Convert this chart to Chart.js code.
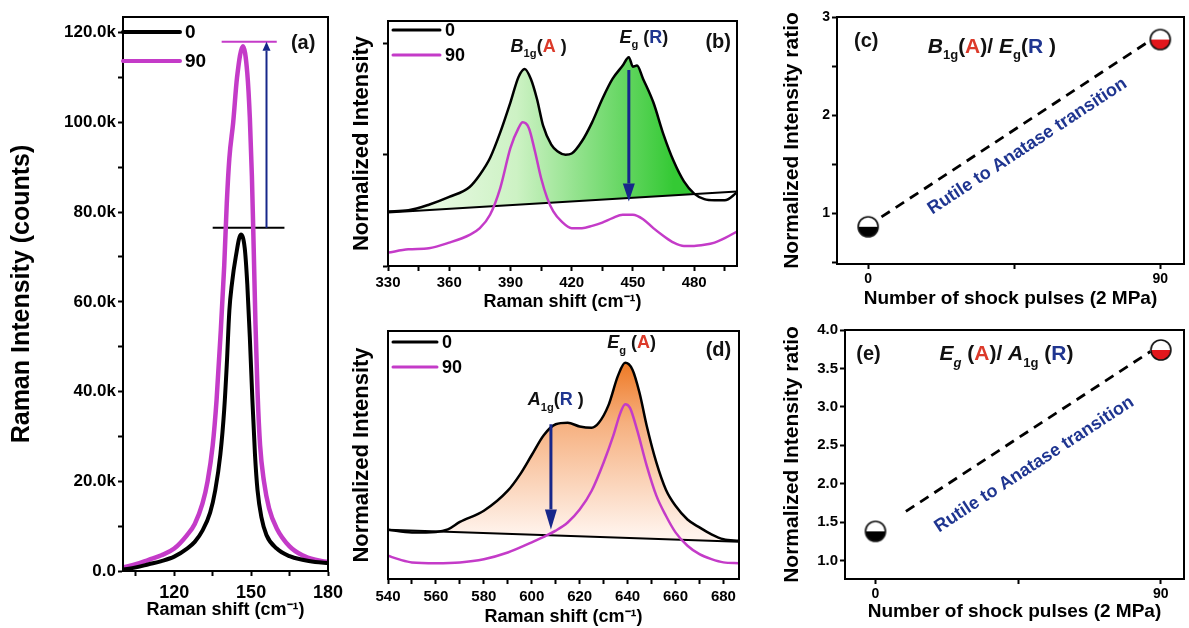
<!DOCTYPE html>
<html lang="en">
<head>
  <meta charset="UTF-8">
  <title>Raman spectra | shock pulses</title>
  <script src="https://cdn.jsdelivr.net/npm/chart.js"></script>
  <style>
    html, body { margin: 0; padding: 0; background: #fff; }
    body { width: 1189px; height: 628px; position: relative; overflow: hidden; }
    canvas { position: absolute; }
  </style>
</head>
<body>
  <canvas id="chartA" width="350" height="628" style="left:0;top:0"></canvas>
  <canvas id="chartB" width="420" height="320" style="left:340px;top:0"></canvas>
  <canvas id="chartD" width="420" height="318" style="left:340px;top:310px"></canvas>
  <canvas id="chartC" width="435" height="320" style="left:760px;top:0"></canvas>
  <canvas id="chartE" width="435" height="318" style="left:760px;top:310px"></canvas>

  <script>
    // (a) low-wavenumber band, counts in thousands
    const aShift0 = [100, 105, 110, 115, 120, 125, 128, 131, 134, 136, 138, 139.5, 140.5, 141.5, 142.5, 144, 146, 147.5, 148.5, 149.5, 150.5, 151.5, 152.5, 154, 156, 160, 165, 170, 175, 180];
    const aCounts0 = [0.3, 0.8, 1.5, 2.2, 3.2, 5, 6.5, 9, 13, 18, 26, 36, 46, 58, 64, 70, 75, 72, 64, 52, 38, 26, 18, 12, 8, 5, 3.3, 2.5, 2, 1.8];
    const aShift90 = [100, 105, 110, 115, 120, 125, 128, 131, 133, 135, 136.5, 138, 139.5, 140.5, 141.5, 143, 144.5, 146.8, 148.5, 149.5, 150.3, 151, 151.7, 152.5, 153.5, 155, 157, 160, 165, 170, 175, 180];
    const aCounts90 = [0.8, 1.5, 2.5, 3.5, 5, 8, 10.5, 15, 20, 28, 38, 52, 68, 82, 92, 100, 110, 117, 111, 101, 88, 72, 55, 40, 28, 20, 14, 9.5, 5.5, 3.5, 2.5, 2];
    const aPeakSpan0 = [135, 163];
    const aPeakLevel0 = [76.5, 76.5];
    const aPeakSpan90 = [138.5, 160];
    const aPeakLevel90 = [118, 118];

    // (b) B1g / Eg region
    const bShift0 = [330, 340, 350, 360, 370, 375, 380, 385, 390, 394, 397, 400, 403, 406, 410, 413, 417, 420, 425, 430, 435, 440, 445, 448, 450, 452, 455, 460, 465, 470, 475, 480, 485, 490, 495, 501];
    const bNorm0 = [0.49, 0.5, 0.55, 0.62, 0.71, 0.82, 0.97, 1.2, 1.47, 1.7, 1.77, 1.68, 1.5, 1.26, 1.09, 1.03, 1.0, 1.01, 1.12, 1.29, 1.5, 1.68, 1.8, 1.875, 1.79, 1.8, 1.68, 1.47, 1.18, 0.94, 0.76, 0.65, 0.6, 0.59, 0.59, 0.66];
    const bShift90 = [330, 340, 350, 360, 370, 375, 380, 385, 390, 394, 396, 399, 402, 405, 408, 411, 415, 420, 425, 430, 435, 440, 445, 450, 455, 460, 465, 470, 475, 480, 485, 490, 495, 501];
    const bNorm90 = [0.12, 0.15, 0.16, 0.21, 0.28, 0.34, 0.46, 0.7, 1.06, 1.24, 1.29, 1.24, 1.03, 0.79, 0.61, 0.49, 0.4, 0.34, 0.34, 0.36, 0.39, 0.43, 0.46, 0.46, 0.42, 0.34, 0.27, 0.21, 0.18, 0.18, 0.19, 0.21, 0.25, 0.31];
    const bBaseShift = [330, 501];
    const bBaseNorm = [0.48, 0.67];

    // (d) Eg / A1g region
    const dShift0 = [540, 550, 560, 565, 570, 580, 590, 595, 600, 605, 610, 615, 620, 625, 628, 632, 636, 639, 642, 645, 648, 652, 656, 660, 665, 670, 675, 680, 686.5];
    const dNorm0 = [0.199, 0.188, 0.19, 0.2, 0.23, 0.275, 0.356, 0.42, 0.5, 0.58, 0.624, 0.63, 0.615, 0.61, 0.63, 0.7, 0.82, 0.872, 0.845, 0.75, 0.617, 0.47, 0.36, 0.295, 0.24, 0.208, 0.18, 0.16, 0.154];
    const dShift90 = [540, 545, 550, 560, 570, 580, 590, 600, 605, 610, 615, 620, 625, 630, 634, 637, 639, 641, 644, 648, 652, 656, 660, 665, 670, 675, 680, 686.5];
    const dNorm90 = [0.094, 0.078, 0.067, 0.064, 0.067, 0.08, 0.107, 0.148, 0.17, 0.195, 0.228, 0.28, 0.356, 0.47, 0.577, 0.67, 0.705, 0.69, 0.6, 0.456, 0.336, 0.255, 0.188, 0.134, 0.1, 0.08, 0.067, 0.064];
    const dBaseShift = [540, 686.5];
    const dBaseNorm = [0.199, 0.15];

    // (c), (e) intensity ratios vs number of shock pulses
    const pulses = [0, 90];
    const cRatio = [0.86, 2.77];
    const cTrendPulses = [4.1, 86.9];
    const cTrendRatio = [0.96, 2.76];
    const eRatio = [1.38, 3.74];
    const eTrendPulses = [9.6, 86.7];
    const eTrendRatio = [1.64, 3.72];

    const FONT = '"Liberation Sans", Arial, sans-serif';
    const MAG = '#c43bc8';
    const RED = '#dc3a2a';
    const NAVY = '#1f3590';
    const ARROW = '#17278a';

    Chart.defaults.font.family = FONT;
    Chart.defaults.color = '#000';
    Chart.defaults.animation = false;
    Chart.defaults.events = [];

    const pts = (xs, ys) => xs.map((x, i) => ({ x, y: ys[i] }));
    const bold = size => ({ family: FONT, size, weight: 'bold' });

    // frame round the plot area
    const framePlugin = {
      id: 'frame',
      afterDatasetsDraw(chart) {
        const { ctx, chartArea: a } = chart;
        ctx.save();
        ctx.strokeStyle = '#000';
        ctx.lineWidth = 2;
        ctx.strokeRect(a.left, a.top, a.right - a.left, a.bottom - a.top);
        ctx.restore();
      }
    };

    // line-sample legend inside the plot, from labelled datasets
    const keyPlugin = {
      id: 'key',
      afterDraw(chart, args, o) {
        if (!o.len) return;
        const { ctx, chartArea: a } = chart;
        let y = a.top + o.dy;
        chart.data.datasets.forEach(ds => {
          if (!ds.label) return;
          ctx.save();
          ctx.strokeStyle = ds.borderColor;
          ctx.lineWidth = o.width;
          ctx.lineCap = 'round';
          ctx.beginPath();
          ctx.moveTo(a.left + o.dx, y);
          ctx.lineTo(a.left + o.dx + o.len, y);
          ctx.stroke();
          ctx.fillStyle = '#000';
          ctx.font = `bold ${o.size}px ${FONT}`;
          ctx.textBaseline = 'middle';
          ctx.fillText(ds.label, a.left + o.dx + o.len + 5, y + 1);
          ctx.restore();
          y += o.step;
        });
      }
    };

    function drawRich(ctx, parts, cx, cy, size) {
      const seg = parts.map(p => {
        const s = p.sub ? size * 0.62 : size;
        const font = `${p.it ? 'italic ' : ''}bold ${s}px ${FONT}`;
        ctx.font = font;
        return { t: p.t, c: p.c, font, w: ctx.measureText(p.t).width, dy: p.sub ? size * 0.4 : 0 };
      });
      let x = cx - seg.reduce((t, p) => t + p.w, 0) / 2;
      ctx.textBaseline = 'middle';
      ctx.textAlign = 'left';
      seg.forEach(p => {
        ctx.font = p.font;
        ctx.fillStyle = p.c || '#111';
        ctx.fillText(p.t, x, cy + p.dy);
        x += p.w;
      });
    }

    // text notes placed at data coordinates
    const notesPlugin = {
      id: 'notes',
      afterDatasetsDraw(chart, args, o) {
        if (!o.items) return;
        const { ctx, scales } = chart;
        o.items.forEach(n => {
          ctx.save();
          drawRich(ctx, n.parts, scales.x.getPixelForValue(n.x), scales.y.getPixelForValue(n.y), n.size);
          ctx.restore();
        });
      }
    };

    // vertical arrows between two data values
    const arrowPlugin = {
      id: 'arrows',
      afterDatasetsDraw(chart, args, o) {
        if (!o.items) return;
        const { ctx, scales } = chart;
        o.items.forEach(a => {
          const x = scales.x.getPixelForValue(a.x);
          const y0 = scales.y.getPixelForValue(a.from);
          const y1 = scales.y.getPixelForValue(a.to);
          const dir = Math.sign(y1 - y0);
          ctx.save();
          ctx.strokeStyle = ARROW;
          ctx.fillStyle = ARROW;
          ctx.lineWidth = a.width;
          ctx.beginPath();
          ctx.moveTo(x, y0);
          ctx.lineTo(x, y1 - dir * a.head);
          ctx.stroke();
          ctx.beginPath();
          ctx.moveTo(x, y1);
          ctx.lineTo(x - a.half, y1 - dir * a.head);
          ctx.lineTo(x + a.half, y1 - dir * a.head);
          ctx.closePath();
          ctx.fill();
          ctx.restore();
        });
      }
    };

    // label running along a dataset's line
    const slopePlugin = {
      id: 'slope',
      afterDatasetsDraw(chart, args, o) {
        if (!o.text) return;
        const meta = chart.getDatasetMeta(o.dataset);
        const p0 = meta.data[0], p1 = meta.data[meta.data.length - 1];
        const ang = Math.atan2(p1.y - p0.y, p1.x - p0.x);
        const ux = Math.cos(ang), uy = Math.sin(ang);
        const x = (p0.x + p1.x) / 2 + ux * o.along - uy * o.perp;
        const y = (p0.y + p1.y) / 2 + uy * o.along + ux * o.perp;
        const { ctx } = chart;
        ctx.save();
        ctx.translate(x, y);
        ctx.rotate(ang);
        ctx.font = `bold ${o.size}px ${FONT}`;
        ctx.fillStyle = NAVY;
        ctx.textAlign = 'center';
        ctx.textBaseline = 'middle';
        ctx.fillText(o.text, 0, 0);
        ctx.restore();
      }
    };

    Chart.register(framePlugin, keyPlugin, notesPlugin, arrowPlugin, slopePlugin);

    function halfDot(fill) {
      const c = document.createElement('canvas');
      c.width = c.height = 24;
      const g = c.getContext('2d');
      g.fillStyle = '#fff';
      g.beginPath(); g.arc(12, 12, 10, 0, 2 * Math.PI); g.fill();
      g.fillStyle = fill;
      g.beginPath(); g.arc(12, 12, 10, 0, Math.PI); g.closePath(); g.fill();
      g.strokeStyle = '#111'; g.lineWidth = 1.6;
      g.beginPath(); g.arc(12, 12, 10, 0, 2 * Math.PI); g.stroke();
      return c;
    }
    const dot0 = halfDot('#000');
    const dot90 = halfDot('#e2161c');

    function xAxis(min, max, step, labelEvery, fontSize, tickPad, title, titleSize, titlePad, height) {
      return {
        type: 'linear', min, max,
        border: { color: '#000', width: 2 },
        grid: { drawOnChartArea: false, tickLength: 5, tickColor: '#000', tickWidth: 2 },
        ticks: {
          stepSize: step, includeBounds: false, autoSkip: false, maxRotation: 0,
          padding: tickPad, font: bold(fontSize),
          callback: v => (Math.abs(v % labelEvery) < 1e-6 ? v : '')
        },
        title: { display: true, text: title, font: bold(titleSize), padding: { top: 0, bottom: titlePad } },
        afterFit: s => { s.height = height; }
      };
    }

    function yAxis(min, max, step, fmt, fontSize, title, titleSize, titlePad, width, drawTicks) {
      return {
        min, max,
        border: { color: '#000', width: 2 },
        grid: { drawOnChartArea: false, drawTicks, tickLength: 5, tickColor: '#000', tickWidth: 2 },
        ticks: { stepSize: step, includeBounds: false, autoSkip: false, padding: 2, font: bold(fontSize), callback: fmt },
        title: { display: true, text: title, font: bold(titleSize), padding: { top: titlePad, bottom: 0 } },
        afterFit: s => { s.width = width; }
      };
    }

    const line = (data, color, width, extra) => Object.assign({
      data, borderColor: color, borderWidth: width, pointRadius: 0,
      cubicInterpolationMode: 'monotone', fill: false
    }, extra || {});

    // ---- (a)
    new Chart(document.getElementById('chartA'), {
      type: 'line',
      data: {
        datasets: [
          line(pts(aShift0, aCounts0), '#000', 4, { label: '0' }),
          line(pts(aShift90, aCounts90), MAG, 4.5, { label: '90' }),
          line(pts(aPeakSpan0, aPeakLevel0), '#000', 2),
          line(pts(aPeakSpan90, aPeakLevel90), MAG, 2)
        ]
      },
      options: {
        responsive: false,
        layout: { padding: { left: 0, top: 17, right: 22, bottom: 0 } },
        scales: {
          x: xAxis(100, 180, 15, 30, 18, 6, 'Raman shift (cm⁻¹)', 18, 7, 57),
          y: yAxis(0, 123.5, 10, v => (v % 20 ? '' : (v === 0 ? '0.0' : v.toFixed(1) + 'k')), 17,
            'Raman Intensity (counts)', 25, 7, 123, true)
        },
        plugins: {
          legend: { display: false }, tooltip: { enabled: false },
          key: { dx: 0, dy: 15, len: 57, step: 29, width: 4, size: 19 },
          arrows: { items: [{ x: 156, from: 76.5, to: 118, width: 2, head: 9, half: 4 }] },
          notes: { items: [{ x: 170.3, y: 117.6, size: 20, parts: [{ t: '(a)' }] }] }
        }
      }
    });

    // ---- (b)
    new Chart(document.getElementById('chartB'), {
      type: 'line',
      data: {
        datasets: [
          line(pts(bShift0, bNorm0), '#000', 2.5, {
            label: '0',
            fill: { target: 2, below: 'rgba(0,0,0,0)' },
            backgroundColor: c => {
              const ch = c.chart, a = ch.chartArea;
              if (!a) return 'rgba(0,0,0,0)';
              const g = ch.ctx.createLinearGradient(ch.scales.x.getPixelForValue(330), 0, ch.scales.x.getPixelForValue(470), 0);
              g.addColorStop(0, '#f4fcf1');
              g.addColorStop(0.45, '#cdf2c4');
              g.addColorStop(1, '#34c934');
              return g;
            }
          }),
          line(pts(bShift90, bNorm90), MAG, 2.5, { label: '90' }),
          line(pts(bBaseShift, bBaseNorm), '#000', 2)
        ]
      },
      options: {
        responsive: false,
        layout: { padding: { left: 0, top: 21, right: 23, bottom: 0 } },
        scales: {
          x: xAxis(330, 501, 15, 30, 15, 3, 'Raman shift (cm⁻¹)', 18, 7, 54),
          y: yAxis(0, 2.2, 1, () => '', 12, 'Normalized Intensity', 22, 9, 48, true)
        },
        plugins: {
          legend: { display: false }, tooltip: { enabled: false },
          filler: { drawTime: 'beforeDatasetsDraw' },
          key: { dx: 5, dy: 9, len: 47, step: 25, width: 3, size: 18 },
          arrows: { items: [{ x: 448, from: 1.76, to: 0.58, width: 3, head: 18, half: 6 }] },
          notes: {
            items: [
              { x: 403.8, y: 1.97, size: 18, parts: [{ t: 'B', it: true }, { t: '1g', sub: true }, { t: '(' }, { t: 'A', c: RED }, { t: ' )' }] },
              { x: 455.4, y: 2.05, size: 18, parts: [{ t: 'E', it: true }, { t: 'g', sub: true }, { t: ' (' }, { t: 'R', c: NAVY }, { t: ')' }] },
              { x: 491.8, y: 2.01, size: 20, parts: [{ t: '(b)' }] }
            ]
          }
        }
      }
    });

    // ---- (d)
    new Chart(document.getElementById('chartD'), {
      type: 'line',
      data: {
        datasets: [
          line(pts(dShift0, dNorm0), '#000', 2.5, {
            label: '0',
            fill: { target: 2, below: 'rgba(0,0,0,0)' },
            backgroundColor: c => {
              const ch = c.chart, a = ch.chartArea;
              if (!a) return 'rgba(0,0,0,0)';
              const g = ch.ctx.createLinearGradient(0, ch.scales.y.getPixelForValue(0.87), 0, ch.scales.y.getPixelForValue(0.18));
              g.addColorStop(0, '#ee7a26');
              g.addColorStop(0.35, '#f6b07f');
              g.addColorStop(1, '#fff3ec');
              return g;
            }
          }),
          line(pts(dShift90, dNorm90), MAG, 2.5, { label: '90' }),
          line(pts(dBaseShift, dBaseNorm), '#000', 2)
        ]
      },
      options: {
        responsive: false,
        layout: { padding: { left: 0, top: 21, right: 21, bottom: 0 } },
        scales: {
          x: xAxis(540, 686.5, 10, 20, 15, 4, 'Raman shift (cm⁻¹)', 18, 0, 49),
          y: yAxis(0, 1, 1, () => '', 12, 'Normalized Intensity', 22, 9, 48, false)
        },
        plugins: {
          legend: { display: false }, tooltip: { enabled: false },
          filler: { drawTime: 'beforeDatasetsDraw' },
          key: { dx: 5, dy: 11, len: 44, step: 25, width: 3, size: 18 },
          arrows: { items: [{ x: 608, from: 0.624, to: 0.2, width: 3, head: 20, half: 6 }] },
          notes: {
            items: [
              { x: 610, y: 0.72, size: 18, parts: [{ t: 'A', it: true }, { t: '1g', sub: true }, { t: '(' }, { t: 'R', c: NAVY }, { t: ' )' }] },
              { x: 641.7, y: 0.95, size: 18, parts: [{ t: 'E', it: true }, { t: 'g', sub: true }, { t: ' (' }, { t: 'A', c: RED }, { t: ')' }] },
              { x: 677.9, y: 0.92, size: 20, parts: [{ t: '(d)' }] }
            ]
          }
        }
      }
    });

    // ---- ratio panels
    function ratioChart(id, ratio, trendX, trendY, yMin, yMax, fmt, tickSize, xHeight, xTitlePad, yWidth, top, notes, along, perp) {
      return new Chart(document.getElementById(id), {
        type: 'line',
        data: {
          datasets: [
            { data: pts(pulses, ratio), showLine: false, pointStyle: [dot0, dot90], pointRadius: 10 },
            line(pts(trendX, trendY), '#000', 2.8, { borderDash: [10, 7], cubicInterpolationMode: 'default', tension: 0 })
          ]
        },
        options: {
          responsive: false,
          layout: { padding: { left: 0, top, right: 4, bottom: 0 } },
          scales: {
            x: xAxis(-9.6, 97.3, 45, 90, 14, 2, 'Number of shock pulses (2 MPa)', 19, xTitlePad, xHeight),
            y: yAxis(yMin, yMax, 0.5, fmt, tickSize, 'Normalized Intensity ratio', 21, 20, yWidth, true)
          },
          plugins: {
            legend: { display: false }, tooltip: { enabled: false },
            notes: { items: notes },
            slope: { dataset: 1, text: 'Rutile to Anatase transition', size: 18, along, perp }
          }
        }
      });
    }

    ratioChart('chartC', cRatio, cTrendPulses, cTrendRatio, 0.48, 3,
      v => (Number.isInteger(v) ? String(v) : ''), 14, 56, 10, 77, 17,
      [
        { x: -0.6, y: 2.75, size: 20, parts: [{ t: '(c)' }] },
        { x: 38.1, y: 2.69, size: 21, parts: [{ t: 'B', it: true }, { t: '1g', sub: true }, { t: '(' }, { t: 'A', c: RED }, { t: ')/ ' }, { t: 'E', it: true }, { t: 'g', sub: true }, { t: '(' }, { t: 'R', c: NAVY }, { t: ' )' }] }
      ], 0, 21);

    ratioChart('chartE', eRatio, eTrendPulses, eTrendRatio, 0.76, 4,
      v => v.toFixed(1), 15, 49, 5, 85, 20,
      [
        { x: -2.2, y: 3.68, size: 20, parts: [{ t: '(e)' }] },
        { x: 41.3, y: 3.68, size: 21, parts: [{ t: 'E', it: true }, { t: 'g', sub: true, it: true }, { t: ' (' }, { t: 'A', c: RED }, { t: ')/ ' }, { t: 'A', it: true }, { t: '1g', sub: true }, { t: ' (' }, { t: 'R', c: NAVY }, { t: ')' }] }
      ], -13, 31);
  </script>
</body>
</html>
